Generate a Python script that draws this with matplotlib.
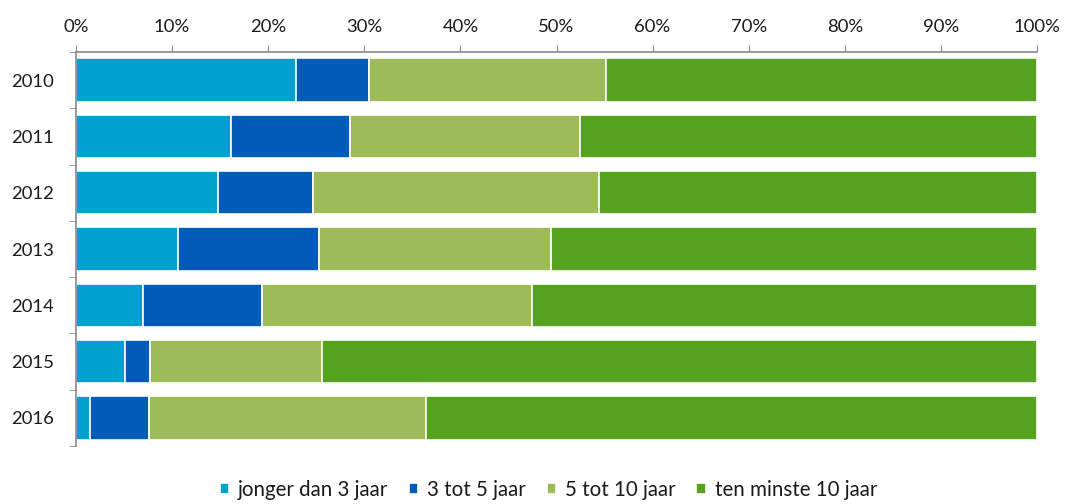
import matplotlib.pyplot as plt
from matplotlib.ticker import FixedLocator, PercentFormatter
import numpy as np

plt.rcParams['font.family'] = ['Lato', 'DejaVu Sans']

years = ['2010', '2011', '2012', '2013', '2014', '2015', '2016']
series = ['jonger dan 3 jaar', '3 tot 5 jaar', '5 tot 10 jaar', 'ten minste 10 jaar']
jonger_3 = [22.9, 16.1, 14.8, 10.6, 7.0, 5.1, 1.5]
tot_5 = [7.6, 12.4, 9.9, 14.7, 12.3, 2.6, 6.1]
tot_10 = [24.7, 23.9, 29.7, 24.1, 28.1, 17.9, 28.8]
minste_10 = [44.8, 47.6, 45.6, 50.6, 52.6, 74.4, 63.6]
colors = ['#00A1CF', '#005BB9', '#9DBB59', '#55A21E']

fig = plt.figure(figsize=(10.65, 5.04), dpi=100)
ax = fig.add_axes([0.0714, 0.1151, 0.9023, 0.7817])

y = np.arange(len(years))
left = np.zeros(len(years))
for vals, name, c in zip([jonger_3, tot_5, tot_10, minste_10], series, colors):
    ax.barh(y, vals, left=left, height=0.77, color=c, edgecolor='white',
            linewidth=1.2, label=name)
    left += np.array(vals)

ax.set_xlim(0, 100)
ax.set_ylim(len(years) - 0.5, -0.5)
ax.xaxis.tick_top()
ax.set_xticks(np.arange(0, 101, 10))
ax.xaxis.set_major_formatter(PercentFormatter(decimals=0))
ax.set_yticks(y)
ax.set_yticklabels(years)
ax.yaxis.set_minor_locator(FixedLocator(np.arange(-0.5, len(years), 1)))

ax.tick_params(axis='x', which='major', length=5, color='#888888',
               labelsize=13.3, pad=7, labelcolor='#1a1a1a')
ax.tick_params(axis='y', which='major', length=0, labelsize=13.3, pad=16,
               labelcolor='#1a1a1a')
ax.tick_params(axis='y', which='minor', length=5, color='#888888')

for s in ['right', 'bottom']:
    ax.spines[s].set_visible(False)
for s in ['top', 'left']:
    ax.spines[s].set_color('#888888')
    ax.spines[s].set_linewidth(1.2)

handles, labels = ax.get_legend_handles_labels()
fig.legend(handles, labels, loc='center', bbox_to_anchor=(0.515, 0.028), ncol=4,
           frameon=False, fontsize=14.8, handlelength=0.45, handleheight=0.45,
           handletextpad=0.45, columnspacing=1.0, labelcolor='#1a1a1a',
           borderpad=0.2)

fig.savefig('out.png', dpi=100)
